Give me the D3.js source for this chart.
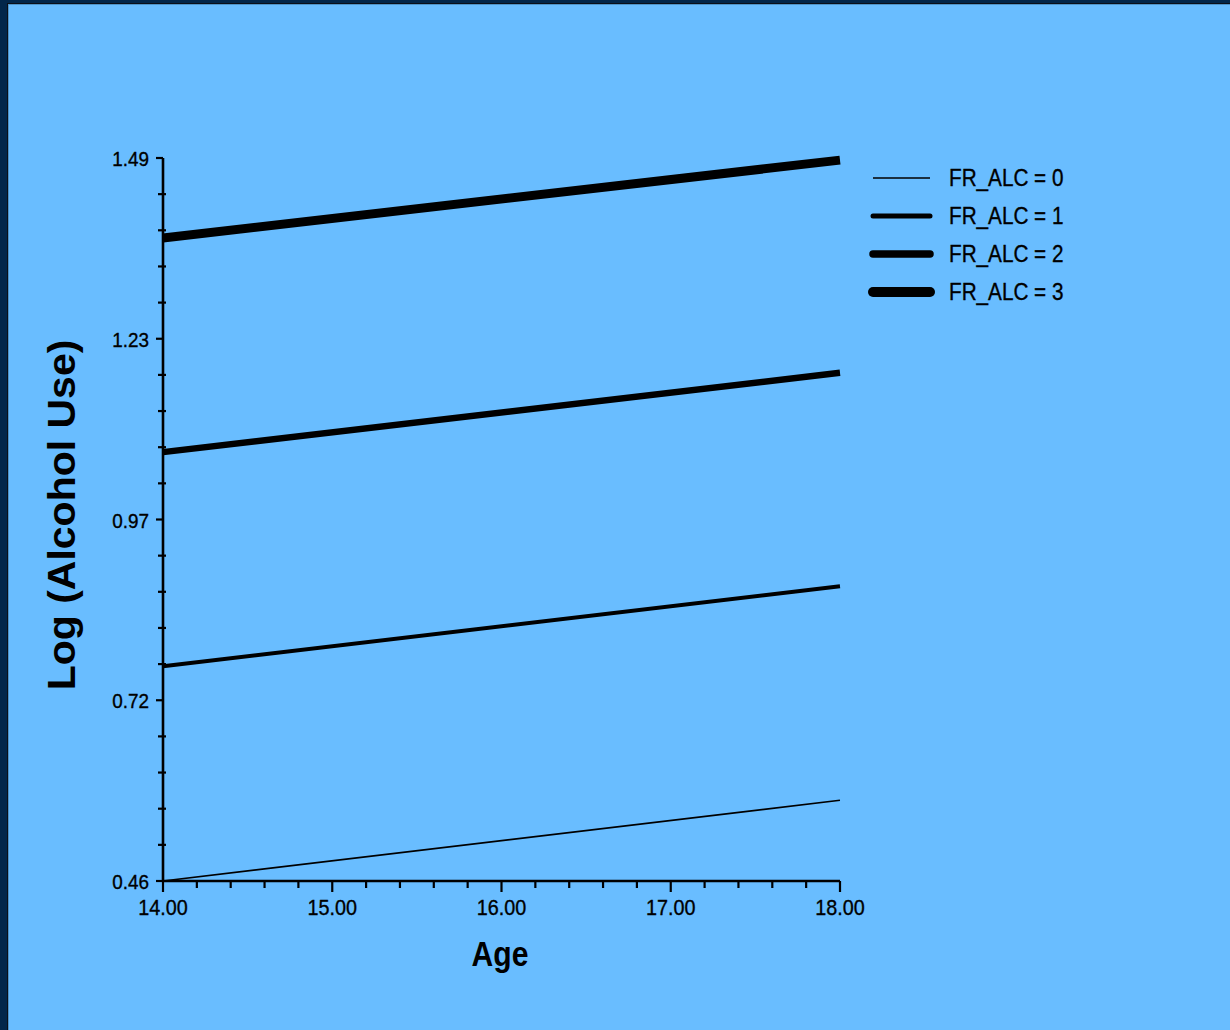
<!DOCTYPE html>
<html>
<head>
<meta charset="utf-8">
<script src="https://cdn.jsdelivr.net/npm/d3@7"></script>
<style>
  html, body { margin: 0; padding: 0; background: #02264a; }
  svg { display: block; }
  text { font-family: "Liberation Sans", Arial, sans-serif; fill: #000; }
  .thin { stroke: #000; stroke-width: 0.35px; }
</style>
</head>
<body>
<svg id="chart" width="1230" height="1030"></svg>
<script>
// ---- data ----
const ages = [14, 18];
const seriesNames = ["FR_ALC = 0", "FR_ALC = 1", "FR_ALC = 2", "FR_ALC = 3"];
const fr0 = [0.460, 0.575];
const fr1 = [0.766, 0.880];
const fr2 = [1.071, 1.184];
const fr3 = [1.376, 1.487];
const seriesValues = [fr0, fr1, fr2, fr3];
const yTickValues = [0.46, 0.7175, 0.975, 1.2325, 1.49];
const yTickLabels = ["0.46", "0.72", "0.97", "1.23", "1.49"];
const xTickValues = [14, 15, 16, 17, 18];
const xTickLabels = ["14.00", "15.00", "16.00", "17.00", "18.00"];
const lineWidths = [1.6, 4, 6.5, 9];

const svg = d3.select("#chart");
const W = 1230, H = 1030;

// frame
svg.append("rect").attr("x", 0).attr("y", 0).attr("width", W).attr("height", H).attr("fill", "#02264a");
svg.append("rect").attr("x", 7).attr("y", 3).attr("width", W - 7).attr("height", H - 3).attr("fill", "#0a0f18");
svg.append("rect").attr("x", 8).attr("y", 4).attr("width", W - 8).attr("height", H - 4).attr("fill", "#4f93c8");
svg.append("rect").attr("x", 9).attr("y", 5).attr("width", W - 9).attr("height", H - 5).attr("fill", "#69bdff");

const x = d3.scaleLinear().domain([14, 18]).range([163, 840]);
const y = d3.scaleLinear().domain([0.46, 1.49]).range([881, 158]);

const sx = 0.9;

// minor ticks
const xMinor = d3.range(0, 21).map(i => 14 + i * 0.2).filter((v, i) => i % 5 !== 0);
const yMinor = d3.range(0, 21).map(i => 0.46 + i * (1.03 / 20)).filter((v, i) => i % 5 !== 0);

const axes = svg.append("g").attr("stroke", "#000").attr("stroke-width", 2.2);
axes.selectAll(".xmin").data(xMinor).join("line")
  .attr("x1", d => x(d)).attr("x2", d => x(d)).attr("y1", 881).attr("y2", 888);
axes.selectAll(".xmaj").data(xTickValues).join("line")
  .attr("x1", d => x(d)).attr("x2", d => x(d)).attr("y1", 881).attr("y2", 892);
axes.selectAll(".ymin").data(yMinor).join("line")
  .attr("x1", 158).attr("x2", 166).attr("y1", d => y(d)).attr("y2", d => y(d));
axes.selectAll(".ymaj").data(yTickValues).join("line")
  .attr("x1", 156).attr("x2", 163).attr("y1", d => y(d)).attr("y2", d => y(d));
axes.append("line").attr("x1", x(14)).attr("x2", x(14)).attr("y1", y(1.49)).attr("y2", y(0.46)).attr("stroke-width", 2.6);
axes.append("line").attr("x1", x(14)).attr("x2", x(18)).attr("y1", y(0.46)).attr("y2", y(0.46)).attr("stroke-width", 2.6);

// tick labels
svg.selectAll(".ylab").data(yTickValues).join("text")
  .attr("class", "thin")
  .attr("transform", d => `translate(149,${y(d) + 8}) scale(${sx},1)`)
  .attr("text-anchor", "end").attr("font-size", 21)
  .text((d, i) => yTickLabels[i]);
svg.selectAll(".xlab").data(xTickValues).join("text")
  .attr("class", "thin")
  .attr("transform", d => `translate(${x(d)},915) scale(${sx},1)`)
  .attr("text-anchor", "middle").attr("font-size", 22)
  .text((d, i) => xTickLabels[i]);

// axis titles
svg.append("text")
  .attr("transform", "translate(500,966) scale(0.86,1)")
  .attr("text-anchor", "middle").attr("font-size", 35).attr("font-weight", "bold")
  .text("Age");
svg.append("text")
  .attr("transform", "translate(75,515) scale(0.93,1) rotate(-90)")
  .attr("text-anchor", "middle").attr("font-size", 41).attr("font-weight", "bold")
  .text("Log (Alcohol Use)");

// lines
const line = d3.line().x((d, i) => x(ages[i])).y(d => y(d));
svg.append("g").selectAll("path").data(seriesValues).join("path")
  .attr("d", d => line(d))
  .attr("fill", "none").attr("stroke", "#000")
  .attr("stroke-width", (d, i) => lineWidths[i])
  .attr("stroke-linecap", "butt");

// legend
const leg = svg.append("g");
const legY = [178, 216, 254, 292];
seriesNames.forEach((name, i) => {
  leg.append("line").attr("x1", 873).attr("x2", 930).attr("y1", legY[i]).attr("y2", legY[i])
    .attr("stroke", "#000").attr("stroke-width", lineWidths[i] + (i === 0 ? 0 : 1))
    .attr("stroke-linecap", i === 0 ? "butt" : "round");
  leg.append("text")
    .attr("class", "thin")
    .attr("transform", `translate(949,${legY[i] + 8}) scale(${sx},1)`)
    .attr("font-size", 23).text(name);
});
</script>
</body>
</html>
